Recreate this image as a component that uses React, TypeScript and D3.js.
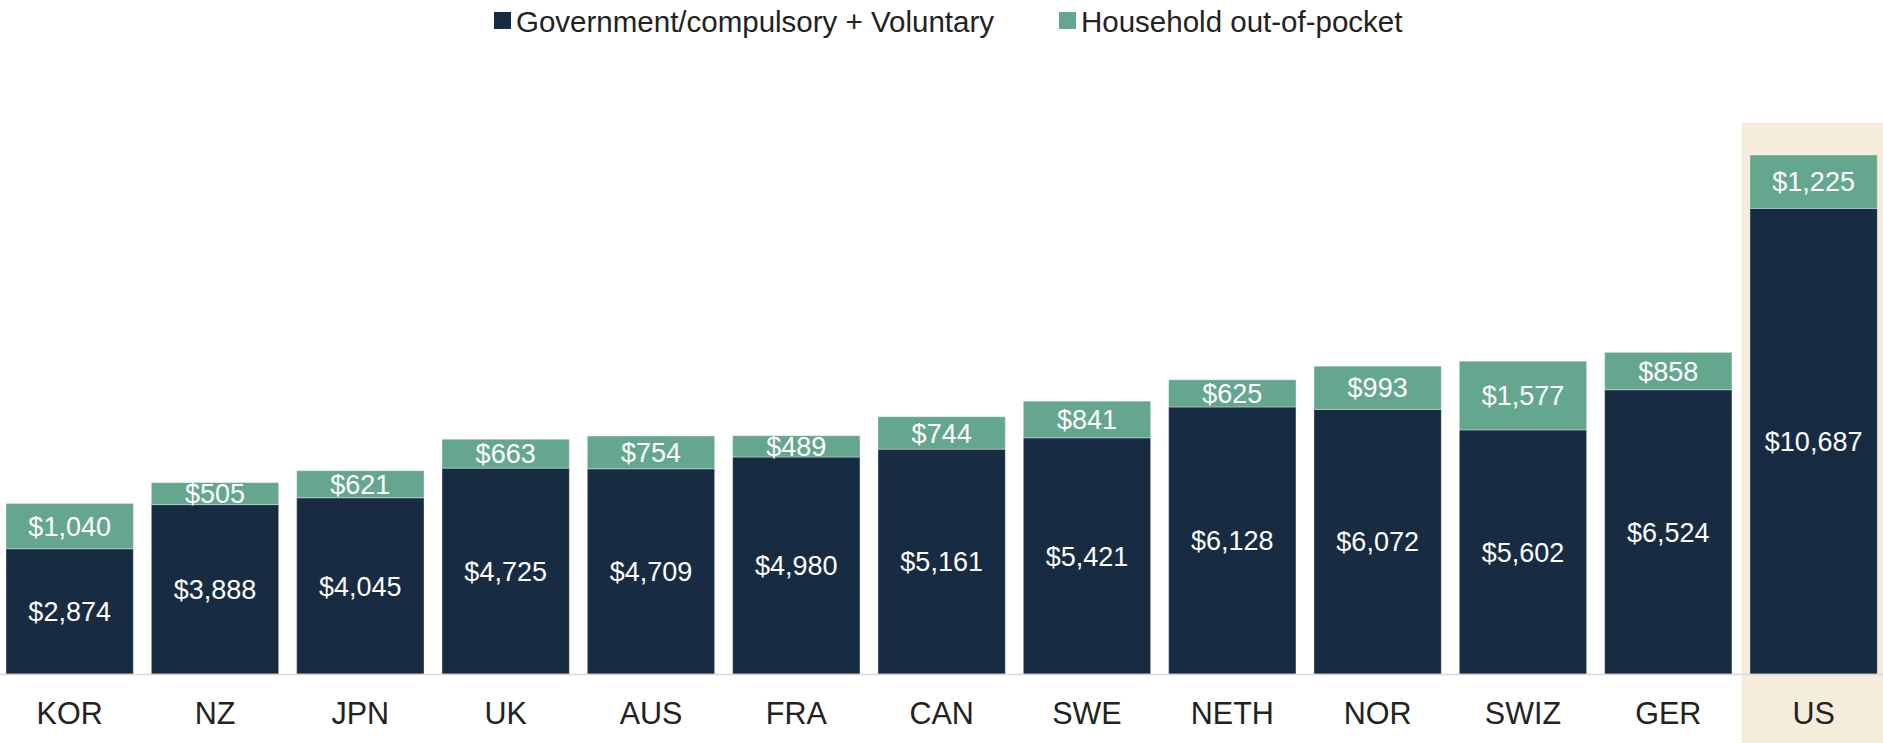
import React from "react";
import * as d3 from "d3";

const categories = ["KOR", "NZ", "JPN", "UK", "AUS", "FRA", "CAN", "SWE", "NETH", "NOR", "SWIZ", "GER", "US"];
const govValues = [2874, 3888, 4045, 4725, 4709, 4980, 5161, 5421, 6128, 6072, 5602, 6524, 10687];
const oopValues = [1040, 505, 621, 663, 754, 489, 744, 841, 625, 993, 1577, 858, 1225];
const seriesNames = ["Government/compulsory + Voluntary", "Household out-of-pocket"];
const highlighted = "US";

const W = 1883;
const H = 743;
const BASE = 674;
const FONT = "'Liberation Sans', Arial, Helvetica, sans-serif";
const DARK = "#172b42";
const GREEN = "#65a68f";
const BEIGE = "#f5ecdb";

export default function App() {
  const x = d3.scaleBand<string>().domain(categories).range([-3, 1886.3]).paddingInner(0.124).paddingOuter(0.062);
  const y = d3.scaleLinear().domain([0, 14000]).range([BASE, BASE - 14000 * 0.04357]);
  const bw = x.bandwidth();
  const fmt = (v: number) => "$" + d3.format(",")(v);
  const valFs = 27;
  const catFs = 30.5;
  const legFs = 29.5;

  const rows = categories.map((c, i) => ({ c, g: govValues[i], o: oopValues[i] }));
  const hx = x(highlighted)!;

  return (
    <svg width={W} height={H} style={{ position: "absolute", left: 0, top: 0 }} fontFamily={FONT}>
      <rect x={0} y={0} width={W} height={H} fill="#ffffff" />
      <rect x={hx - 8.3} y={122.7} width={W - (hx - 8.3)} height={H - 122.7} fill={BEIGE} />
      {rows.map((r) => {
        const x0 = x(r.c)!;
        const yg = y(r.g);
        const yt = y(r.g + r.o);
        const cx = x0 + bw / 2;
        return (
          <g key={r.c}>
            <rect x={x0} y={yg} width={bw} height={BASE - yg} fill={DARK} stroke="#ffffff" strokeOpacity={0.35} strokeWidth={1} />
            <rect x={x0} y={yt} width={bw} height={yg - yt} fill={GREEN} stroke="#ffffff" strokeOpacity={0.35} strokeWidth={1} />
            <text x={cx} y={(yg + BASE) / 2 + valFs * 0.716 / 2} textAnchor="middle" fontSize={valFs} fill="#ffffff">{fmt(r.g)}</text>
            <text x={cx} y={(yt + yg) / 2 + valFs * 0.716 / 2} textAnchor="middle" fontSize={valFs} fill="#ffffff">{fmt(r.o)}</text>
            <text x={cx} y={724} textAnchor="middle" fontSize={catFs} fill="#222222">{r.c}</text>
          </g>
        );
      })}
      <line x1={0} x2={W} y1={BASE + 0.5} y2={BASE + 0.5} stroke="#d9d9d9" strokeWidth={1.5} />
      <g>
        <rect x={494} y={12} width={17} height={17} fill={DARK} />
        <text x={516} y={31.5} fontSize={legFs} fill="#222222">{seriesNames[0]}</text>
        <rect x={1059} y={12} width={17} height={17} fill={GREEN} />
        <text x={1081} y={31.5} fontSize={legFs} fill="#222222">{seriesNames[1]}</text>
      </g>
    </svg>
  );
}
